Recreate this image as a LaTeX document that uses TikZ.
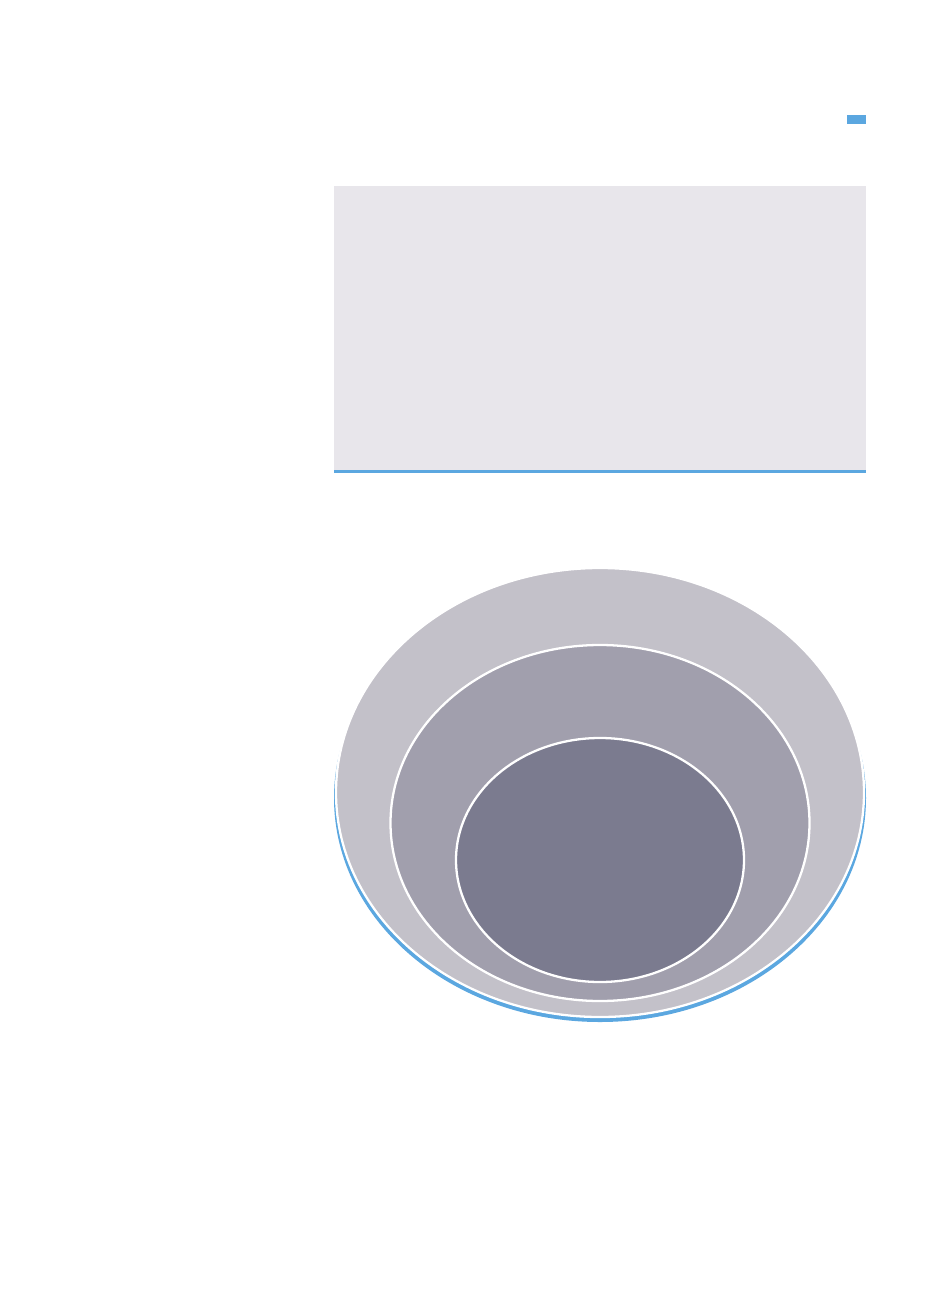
\documentclass[tikz,border=0pt]{standalone}
\usepackage{tikz}
\definecolor{ringblue}{HTML}{5BA7E0}
\definecolor{panelgray}{HTML}{E8E6EB}
\definecolor{ringouter}{HTML}{C3C1C9}
\definecolor{ringmid}{HTML}{A19FAD}
\definecolor{ringinner}{HTML}{7B7B8F}
\begin{document}
\begin{tikzpicture}[x=0.02cm, y=-0.02cm,
    ring/.style={draw=white, line width=1.3pt}]
      \useasboundingbox (0,0) rectangle (925,1291);
      \fill[ringblue] (847,115) rectangle (866,124);
      \fill[panelgray] (334,186) rectangle (866,470);
      \fill[ringblue] (334,470) rectangle (866,473);
      \fill[ringblue] (600,798) ellipse [x radius=266, y radius=224];
      \foreach \c/\cy/\rx/\ry in {ringouter/792.5/264/224.5, ringmid/823/209.5/178, ringinner/860/144/122}{
          \filldraw[ring, fill=\c] (600,\cy) ellipse [x radius=\rx, y radius=\ry];
      }
  \end{tikzpicture}
\end{document}
